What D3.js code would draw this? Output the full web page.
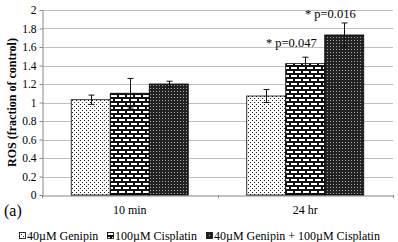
<!DOCTYPE html>
<html>
<head>
<meta charset="utf-8">
<script src="https://cdn.jsdelivr.net/npm/d3@7"></script>
<style>
body { margin: 0; background: #fff; }
</style>
</head>
<body>
<div id="chart"></div>
<script>
// chart data
var categories = ["10 min", "24 hr"];
var seriesNames = ["40\u00b5M Genipin", "100\u00b5M Cisplatin", "40\u00b5M Genipin + 100\u00b5M Cisplatin"];
var genipin = [1.03, 1.07];
var cisplatin = [1.10, 1.42];
var combo = [1.20, 1.73];
var genipinErr = [0.05, 0.07];
var cisplatinErr = [0.16, 0.07];
var comboErr = [0.03, 0.13];
var yTicks = [0, 0.2, 0.4, 0.6, 0.8, 1, 1.2, 1.4, 1.6, 1.8, 2];
var notes = [
  { cat: "24 hr", series: 1, text: "* p=0.047" },
  { cat: "24 hr", series: 2, text: "* p=0.016" }
];

var FONT = "'Liberation Serif', 'Times New Roman', serif";
var W = 398, H = 242;
var margin = { top: 10, right: 5, bottom: 47, left: 42 },
  width = W - margin.left - margin.right,
  height = H - margin.top - margin.bottom;

var root = d3.select("#chart")
  .append("svg")
  .attr("width", W)
  .attr("height", H)
  .attr("font-family", FONT);

// fill patterns
var defs = root.append("defs");

var p1 = defs.append("pattern").attr("id", "pat0")
  .attr("patternUnits", "userSpaceOnUse").attr("width", 4).attr("height", 4);
p1.append("rect").attr("width", 4).attr("height", 4).attr("fill", "#fff");
p1.append("rect").attr("x", 0).attr("y", 0).attr("width", 1).attr("height", 1).attr("fill", "#222");
p1.append("rect").attr("x", 2).attr("y", 2).attr("width", 1).attr("height", 1).attr("fill", "#222");

var p2 = defs.append("pattern").attr("id", "pat1")
  .attr("patternUnits", "userSpaceOnUse").attr("width", 8).attr("height", 8);
p2.append("rect").attr("width", 8).attr("height", 8).attr("fill", "#111");
p2.append("rect").attr("x", 1).attr("y", 1).attr("width", 6).attr("height", 2).attr("fill", "#fff");
p2.append("rect").attr("x", 5).attr("y", 5).attr("width", 6).attr("height", 2).attr("fill", "#fff");
p2.append("rect").attr("x", -3).attr("y", 5).attr("width", 6).attr("height", 2).attr("fill", "#fff");

var p3 = defs.append("pattern").attr("id", "pat2")
  .attr("patternUnits", "userSpaceOnUse").attr("width", 3).attr("height", 3);
p3.append("rect").attr("width", 3).attr("height", 3).attr("fill", "#222");
p3.append("rect").attr("x", 0).attr("y", 0).attr("width", 1).attr("height", 1).attr("fill", "#aaa");

var svg = root.append("g")
  .attr("transform", "translate(" + margin.left + "," + margin.top + ")");

var x0 = d3.scaleBand().domain(categories).range([0, width]).padding(0);
var x1 = d3.scaleBand().domain([0, 1, 2]).range([0, x0.bandwidth()])
  .paddingInner(0).paddingOuter(0.75);
var y = d3.scaleLinear().domain([0, 2]).range([height, 0]);

// grid
svg.append("g")
  .selectAll("line")
  .data(yTicks.slice(1))
  .enter()
  .append("line")
  .attr("x1", 0).attr("x2", width)
  .attr("y1", function (d) { return Math.round(y(d)) + 0.5; })
  .attr("y2", function (d) { return Math.round(y(d)) + 0.5; })
  .attr("stroke", "#bfbfbf");

// y axis
var yAxis = svg.append("g")
  .attr("transform", "translate(0.5,0)")
  .call(d3.axisLeft(y).tickValues(yTicks).tickSize(3).tickSizeOuter(0)
    .tickFormat(function (d) { return d3.format("")(d); }));
yAxis.attr("font-family", FONT);
yAxis.selectAll("path, line").attr("stroke", "#868686");
yAxis.selectAll("text").attr("font-size", 11.5).attr("fill", "#000");

// x axis
var xAxis = svg.append("g")
  .attr("transform", "translate(0," + (Math.round(height) + 0.5) + ")")
  .call(d3.axisBottom(x0).tickSize(0).tickSizeOuter(0));
xAxis.attr("font-family", FONT);
xAxis.select("path").attr("stroke", "#868686");
xAxis.selectAll("text").attr("font-size", 12).attr("fill", "#000")
  .attr("y", 18).attr("dy", 0);
svg.append("g")
  .selectAll("line")
  .data([0, width / 2, width])
  .enter()
  .append("line")
  .attr("x1", function (d) { return Math.round(d) + 0.5; })
  .attr("x2", function (d) { return Math.round(d) + 0.5; })
  .attr("y1", height).attr("y2", height + 3)
  .attr("stroke", "#868686");

// bars
var rows = [];
categories.forEach(function (c, i) {
  [genipin, cisplatin, combo].forEach(function (s, j) {
    var errs = [genipinErr, cisplatinErr, comboErr][j];
    rows.push({ cat: c, series: j, value: s[i], err: errs[i] });
  });
});

svg.append("g")
  .selectAll("rect")
  .data(rows)
  .enter()
  .append("rect")
  .attr("x", function (d) { return x0(d.cat) + x1(d.series); })
  .attr("y", function (d) { return y(d.value); })
  .attr("width", x1.bandwidth())
  .attr("height", function (d) { return height - y(d.value); })
  .attr("fill", function (d) { return "url(#pat" + d.series + ")"; })
  .attr("stroke", "#000")
  .attr("stroke-width", 0.8);

// error bars
var eb = svg.append("g").attr("stroke", "#111").attr("stroke-width", 1);
rows.forEach(function (d) {
  var cx = Math.round(x0(d.cat) + x1(d.series) + x1.bandwidth() / 2) + 0.5;
  eb.append("line").attr("x1", cx).attr("x2", cx)
    .attr("y1", y(d.value - d.err)).attr("y2", y(d.value + d.err));
  [d.value - d.err, d.value + d.err].forEach(function (v) {
    eb.append("line").attr("x1", cx - 3).attr("x2", cx + 3)
      .attr("y1", y(v)).attr("y2", y(v));
  });
});

// p-value notes, right aligned a little inside the bar
svg.append("g")
  .selectAll("text")
  .data(notes)
  .enter()
  .append("text")
  .attr("x", function (d) { return x0(d.cat) + x1(d.series) + x1.bandwidth() - 8; })
  .attr("y", function (d) {
    var r = rows.filter(function (q) { return q.cat === d.cat && q.series === d.series; })[0];
    return y(r.value) - 16.5;
  })
  .attr("text-anchor", "end")
  .attr("font-size", 12.5)
  .text(function (d) { return d.text; });

// y label
root.append("text")
  .attr("transform", "translate(15.5," + (margin.top + height / 2) + ") rotate(-90)")
  .attr("text-anchor", "middle")
  .attr("font-size", 12)
  .attr("font-weight", "bold")
  .text("ROS (fraction of control)");

// panel tag
root.append("text")
  .attr("x", 4).attr("y", 216)
  .attr("font-size", 16)
  .text("(a)");

// legend
var legendX = [19, 107, 206];
var lg = root.append("g");
seriesNames.forEach(function (name, i) {
  var g = lg.append("g").attr("transform", "translate(" + legendX[i] + ",232)");
  g.append("rect").attr("x", 0.5).attr("y", 0.5).attr("width", 6).attr("height", 6)
    .attr("fill", "url(#pat" + i + ")").attr("stroke", "#000").attr("stroke-width", 0.8);
  g.append("text").attr("x", 8).attr("y", 8).attr("font-size", 12).text(name);
});
</script>
</body>
</html>
